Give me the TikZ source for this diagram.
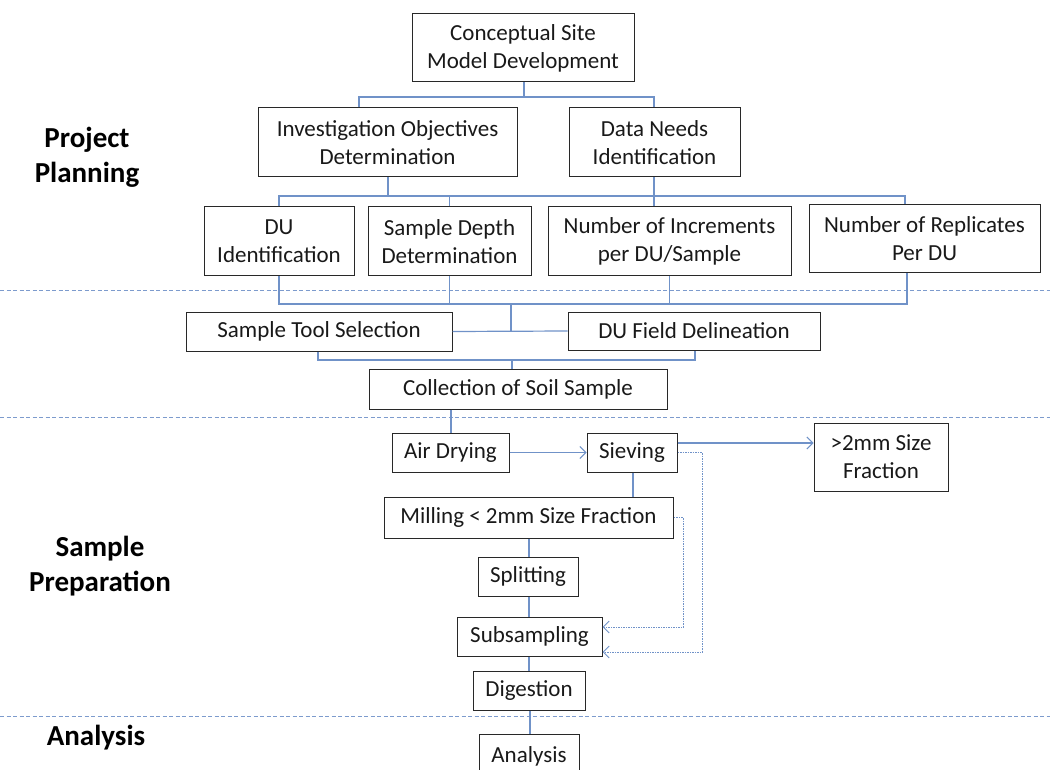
\documentclass[tikz,border=0pt]{standalone}
\usepackage{fontspec}
\setmainfont{Carlito}
\usetikzlibrary{arrows.meta}
\definecolor{conn}{RGB}{112,146,200}
\definecolor{sep}{RGB}{125,155,205}
\definecolor{boxline}{RGB}{40,40,40}
\tikzset{
  box/.style={draw=boxline, line width=1pt, align=center, inner sep=0pt,
    font=\fontsize{23}{28}\selectfont, text=black!90},
  lbl/.style={align=center, font=\bfseries\fontsize{29}{35}\selectfont, text=black},
  link/.style={draw=conn, line width=1.2pt},
  dlink/.style={draw=conn, line width=1pt, dash pattern=on 1.5pt off 1pt},
  arr/.style={-{Straight Barb[length=6pt,width=12pt,line width=1pt]}},
  sepline/.style={draw=sep, line width=1pt, dash pattern=on 4pt off 2.5pt}
}
\begin{document}
\begin{tikzpicture}[x=1pt,y=-1pt]
\useasboundingbox (0,0) rectangle (1050,770);
\clip (0,0) rectangle (1050,770);
% separators
\draw[sepline] (0,291) -- (1050,291);
\draw[sepline] (0,417) -- (1050,417);
\draw[sepline] (0,716) -- (1050,716);
% section labels
\node[lbl] (pp) at (87,157) {Project\\Planning};
\node[lbl] (sp) at (100,566) {Sample\\Preparation};
\node[lbl] (an) at (96,738) {Analysis};
% boxes
\node[box, minimum width=222, minimum height=68] (csm) at (523,48) {Conceptual Site\\Model Development};
\node[box, minimum width=259, minimum height=69] (inv) at (387.5,142.5) {Investigation Objectives\\Determination};
\node[box, minimum width=171, minimum height=69] (data) at (654.5,142.5) {Data Needs\\Identification};
\node[box, minimum width=150, minimum height=69] (du) at (279,241.5) {DU\\Identification};
\node[box, minimum width=163, minimum height=69] (depth) at (449.5,241.5) {Sample Depth\\Determination};
\node[box, minimum width=243, minimum height=69] (incr) at (669.5,241.5) {Number of Increments\\per DU/Sample};
\node[box, minimum width=231, minimum height=68] (repl) at (924.5,239) {Number of Replicates\\Per DU};
\node[box, minimum width=266, minimum height=39] (tool) at (319,331.5) {Sample Tool Selection};
\node[box, minimum width=252, minimum height=38] (field) at (694,331) {DU Field Delineation};
\node[box, minimum width=298, minimum height=40] (coll) at (518,389) {Collection of Soil Sample};
\node[box, minimum width=117, minimum height=39] (air) at (450.5,452.5) {Air Drying};
\node[box, minimum width=90, minimum height=39] (siev) at (632,452.5) {Sieving};
\node[box, minimum width=134, minimum height=68] (big) at (881,457) {>2mm Size\\Fraction};
\node[box, minimum width=289, minimum height=41] (mill) at (528.5,517.5) {Milling < 2mm Size Fraction};
\node[box, minimum width=100, minimum height=39] (split) at (528,576.5) {Splitting};
\node[box, minimum width=145, minimum height=39] (subs) at (529.5,636.5) {Subsampling};
\node[box, minimum width=112, minimum height=39] (dig) at (529,690.5) {Digestion};
\node[box, minimum width=100, minimum height=44] (ana) at (529,756) {Analysis};
% junction coordinates
\coordinate (j1) at (524,97);
\coordinate (j2) at (0,196);
\coordinate (j3) at (0,304);
\coordinate (j4) at (0,360);
% top tree
\draw[link] (csm.south -| j1) -- (j1);
\draw[link] (inv.north -| 359,0) -- (359,97) -- (654,97) -- (data.north -| 654,0);
\draw[link] (inv.south -| 388,0) -- (388,196);
\draw[link] (data.south -| 654,0) -- (incr.north -| 654,0);
\draw[link] (du.north) -- (du.north |- j2) -- (905,196) -- (repl.north -| 905,0);
\draw[link] (depth.north) -- (depth.north |- j2);
% second tree
\draw[link] (du.south) -- (du.south |- j3) -- (907,304) -- (repl.south -| 907,0);
\draw[link] (depth.south) -- (depth.south |- j3);
\draw[link] (incr.south) -- (incr.south |- j3);
\draw[link] (tool.east) -- (field.west);
\draw[link] (511,304) -- (tool.east -| 511,0);
\draw[link] (tool.south -| 318,0) -- (318,360) -- (695,360) -- (field.south -| 695,0);
\draw[link] (512,360) -- (coll.north -| 512,0);
% preparation chain
\draw[link] (coll.south -| 451,0) -- (air.north -| 451,0);
\draw[link,arr] (air.east) -- (siev.west);
\draw[link,arr] (siev.east |- 0,443) -- (big.west |- 0,443);
\draw[link] (siev.south -| 633,0) -- (mill.north -| 633,0);
\draw[link] (mill.south -| 529,0) -- (split.north -| 529,0);
\draw[link] (split.south -| 529,0) -- (subs.north -| 529,0);
\draw[link] (subs.south -| 529,0) -- (dig.north -| 529,0);
\draw[link] (dig.south -| 530,0) -- (ana.north -| 530,0);
% dotted returns
\draw[dlink,arr] (siev.east) -- (702,452.5) -- (702,652) -- (subs.east |- 0,652);
\draw[dlink,arr] (mill.east) -- (683,517.5) -- (683,627) -- (subs.east |- 0,627);
\end{tikzpicture}
\end{document}
